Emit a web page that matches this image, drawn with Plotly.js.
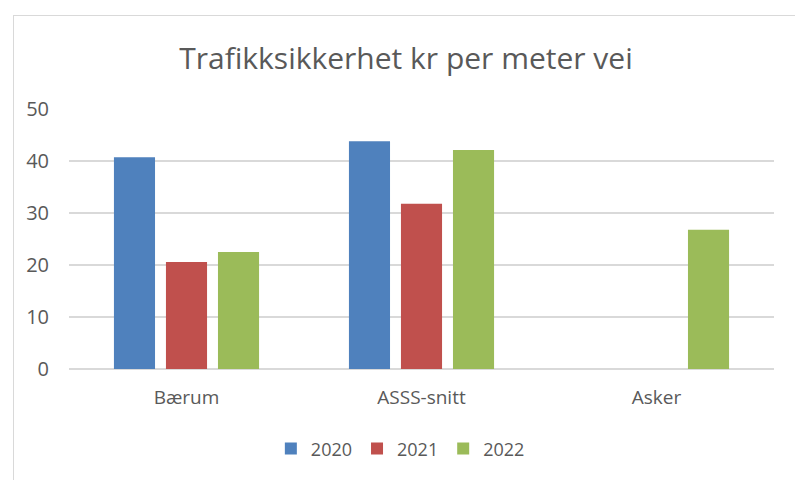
<!DOCTYPE html>
<html>
<head>
<meta charset="utf-8">
<script src="https://cdn.plot.ly/plotly-3.0.1.min.js"></script>
<style>
html,body{margin:0;padding:0;background:#fff;overflow:hidden;}
#chart{position:absolute;left:0;top:0;width:795px;height:480px;}
#frame{position:absolute;left:13px;top:15px;width:800px;height:480px;border:1px solid #d9d9d9;pointer-events:none;}
</style>
</head>
<body>
<div id="chart"></div>
<div id="frame"></div>
<script>
const categories = ["Bærum", "ASSS-snitt", "Asker"];
const years = ["2020", "2021", "2022"];
const values2020 = [40.7, 43.8, null];
const values2021 = [20.6, 31.8, null];
const values2022 = [22.5, 42.1, 26.8];
const colors = ["#4f81bd", "#c0504d", "#9bbb59"];
const yTicks = [0, 10, 20, 30, 40, 50];

const series = [values2020, values2021, values2022];
const data = series.map((vals, i) => ({
  type: "bar",
  name: years[i],
  x: categories,
  y: vals,
  marker: {color: colors[i]},
  hoverinfo: "skip"
}));

const FONT = "'Open Sans', 'Noto Sans', sans-serif";
const layout = {
  width: 795,
  height: 480,
  margin: {l: 69, r: 21, t: 109, b: 111},
  paper_bgcolor: "rgba(0,0,0,0)",
  plot_bgcolor: "#fff",
  font: {family: FONT, color: "#595959", size: 18},
  title: {
    text: "Trafikksikkerhet kr per meter vei",
    font: {size: 30, color: "#595959", family: FONT},
    x: 406/795, xanchor: "center", xref: "container",
    y: 1 - 58/480, yanchor: "middle", yref: "container"
  },
  barmode: "group",
  bargap: 0.336,
  bargroupgap: 0.21,
  showlegend: true,
  legend: {
    orientation: "h",
    x: 0.47, xanchor: "center",
    y: -0.307, yanchor: "middle",
    font: {size: 18, color: "#595959", family: FONT},
    itemwidth: 30,
    itemclick: false
  },
  xaxis: {
    type: "category",
    showgrid: false,
    showline: false,
    ticks: "",
    ticklabelstandoff: 15,
    tickfont: {size: 19, color: "#595959", family: FONT}
  },
  yaxis: {
    range: [0, 50],
    tickvals: yTicks,
    showgrid: true,
    gridcolor: "#d9d9d9",
    gridwidth: 1.5,
    zeroline: true,
    zerolinecolor: "#d9d9d9",
    zerolinewidth: 1.5,
    showline: false,
    ticks: "",
    ticklabelstandoff: 19,
    tickfont: {size: 20, color: "#595959", family: FONT}
  }
};

Plotly.newPlot("chart", data, layout, {staticPlot: true});
</script>
</body>
</html>
